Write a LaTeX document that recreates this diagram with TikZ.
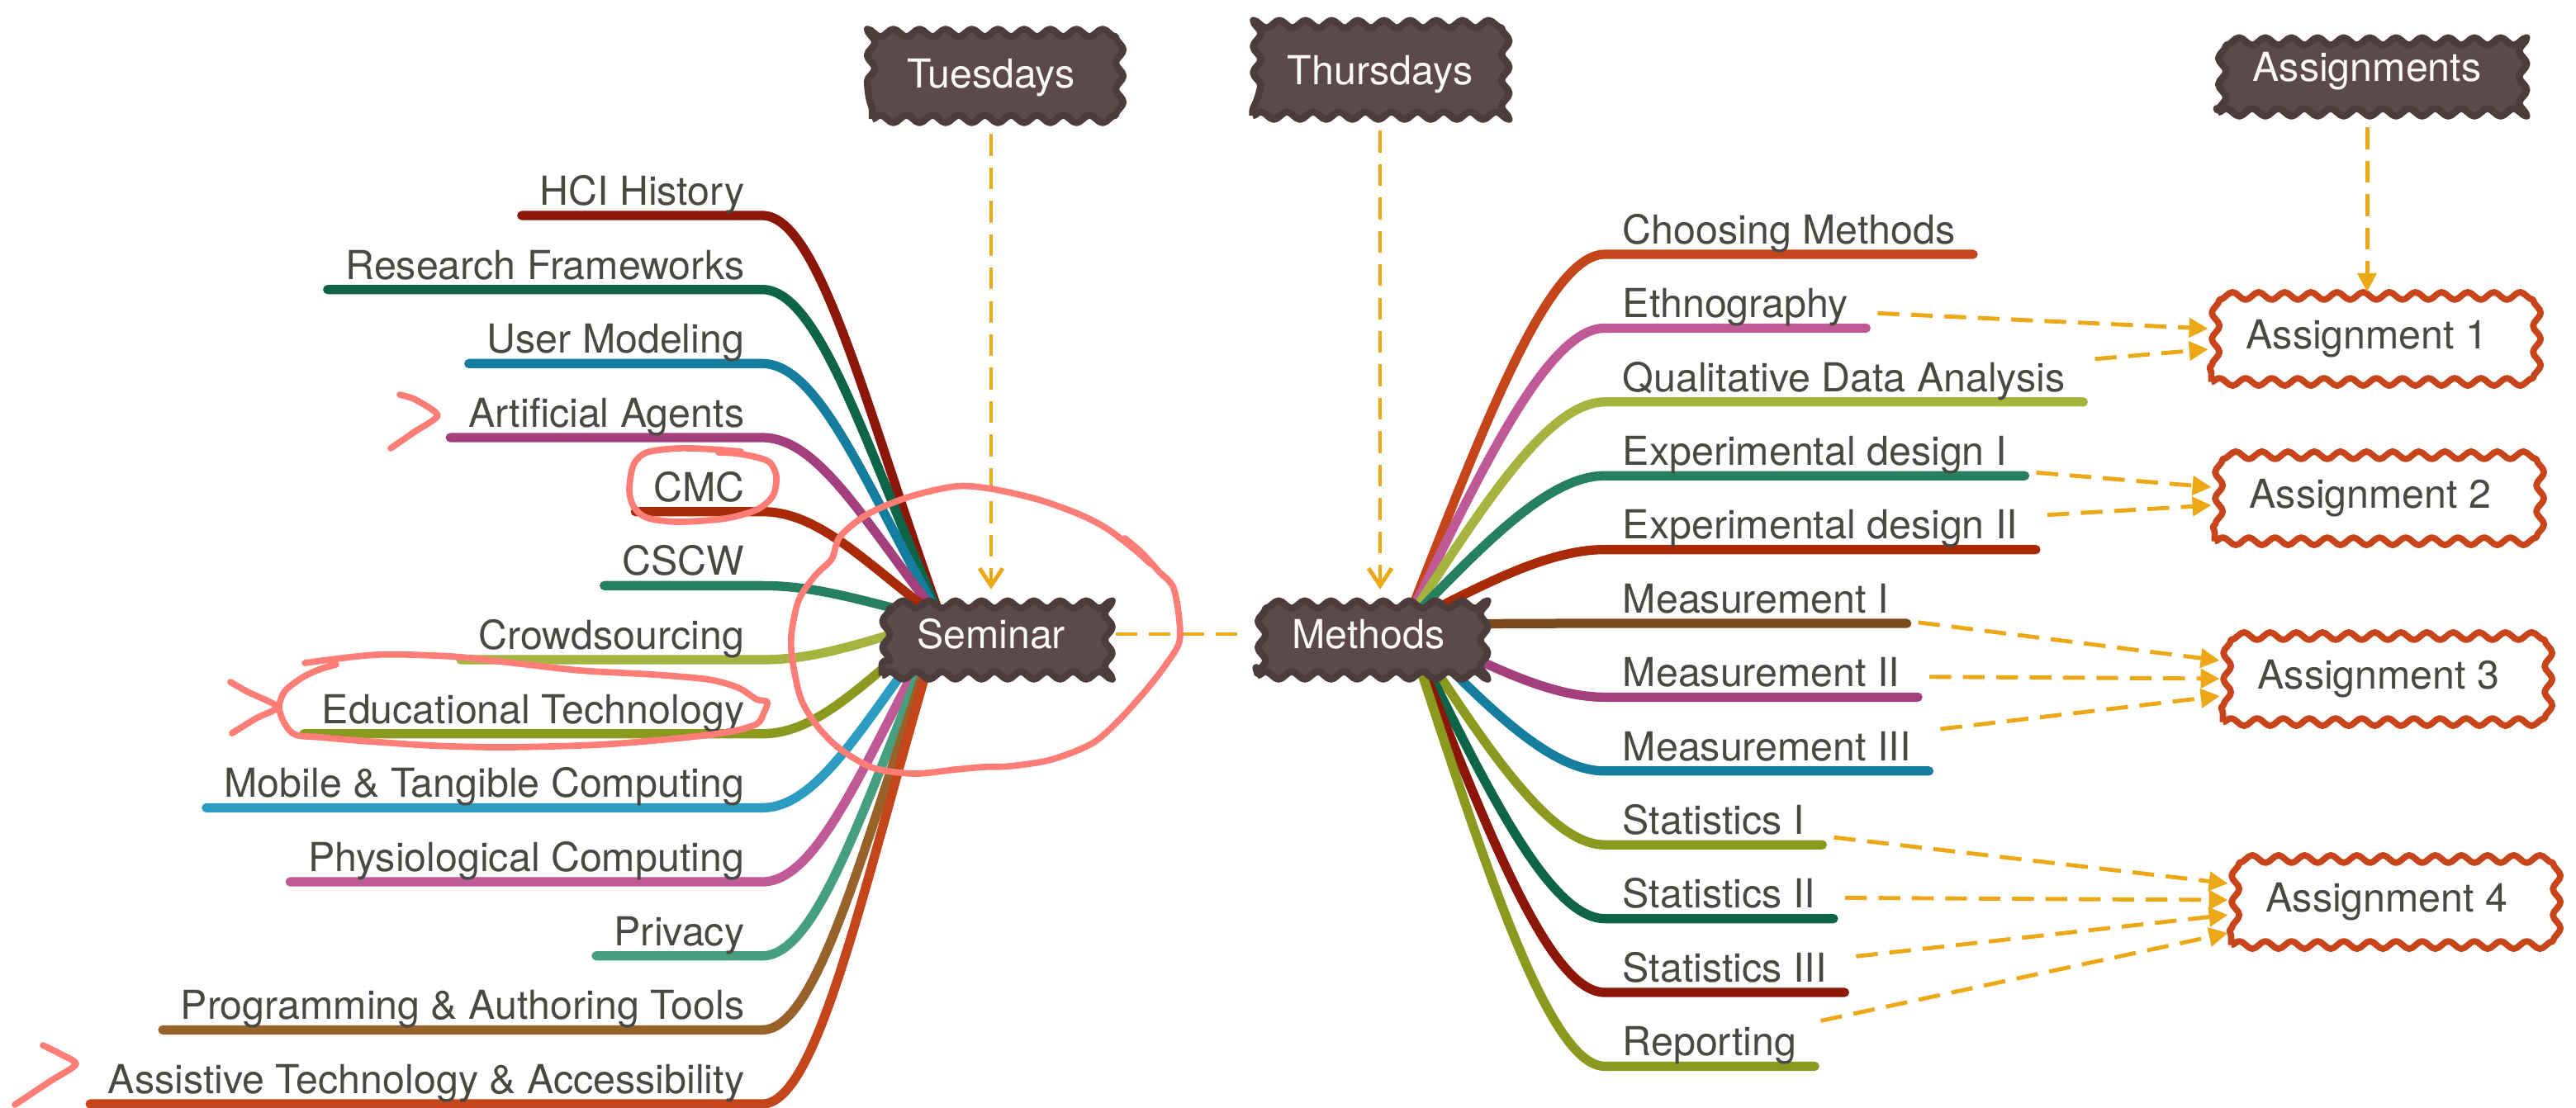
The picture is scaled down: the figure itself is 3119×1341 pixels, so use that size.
\documentclass[tikz,border=0pt]{standalone}
\usepackage{fontspec}
\setmainfont{TeX Gyre Heros}
\usetikzlibrary{arrows.meta,decorations.pathmorphing}
\pgfdeclarelayer{bg}
\pgfsetlayers{bg,main}

\definecolor{txtgray}{HTML}{4A4843}
\definecolor{cloudfill}{HTML}{5C4A4A}
\definecolor{cloudline}{HTML}{4D3C3C}
\definecolor{taskline}{HTML}{C8441A}
\definecolor{linkorange}{HTML}{ECA816}
\definecolor{scribred}{HTML}{FF7D77}
% branch colours
\definecolor{wine}{HTML}{8C1708}
\definecolor{pine}{HTML}{0E6446}
\definecolor{teal}{HTML}{157E9E}
\definecolor{plum}{HTML}{A33F7C}
\definecolor{brick}{HTML}{A82A06}
\definecolor{jade}{HTML}{25805F}
\definecolor{lime}{HTML}{A4B43F}
\definecolor{olive}{HTML}{8A9A1F}
\definecolor{sky}{HTML}{2C9CC2}
\definecolor{rose}{HTML}{C05A96}
\definecolor{sea}{HTML}{46A07F}
\definecolor{umber}{HTML}{98622B}
\definecolor{flame}{HTML}{C44519}
\definecolor{bark}{HTML}{7B4A1C}

\begin{document}
\begin{tikzpicture}[
  x=0.01cm, y=-0.01cm,
  font=\fontsize{13.75}{16}\selectfont,
  topic/.style={text=txtgray, inner xsep=6pt, inner ysep=1pt,
                text height=10pt, text depth=2.4pt},
  branch/.style={line width=3.2pt, line cap=round},
  daybox/.style={fill=cloudfill, draw=cloudline, text=white!96!brown,
                 line width=2.4pt, inner xsep=12pt, minimum height=1.0cm,
                 line join=round, decorate,
                 decoration={snake, segment length=9pt, amplitude=1.3pt}},
  taskbox/.style={daybox, fill=white, draw=taskline, text=txtgray,
                  line width=2.2pt, minimum height=1.05cm},
  dashlink/.style={linkorange, line width=1.4pt,
                   dash pattern=on 7.5pt off 4pt, shorten <=4pt},
  tip/.style={dashlink, -{Triangle[length=6.5pt, width=6.5pt]}},
  barb/.style={dashlink, -{Straight Barb[length=6pt, width=8pt]}},
  scribble/.style={scribred, line width=2.2pt, line cap=round,
                   line join=round}
]
\useasboundingbox (0,0) rectangle (3119,1341);

% main topics
\node[daybox] (Sem) at (1200,768) {Seminar};
\node[daybox] (Met) at (1657,768) {Methods};
\node[daybox] (Tue) at (1200,94)  {Tuesdays};
\node[daybox] (Thu) at (1671,90)  {Thursdays};
\node[daybox] (Asg) at (2866,86)  {Assignments};

\node[taskbox] (A1) at (2866,410)  {Assignment 1};
\node[taskbox] (A2) at (2870,603)  {Assignment 2};
\node[taskbox] (A3) at (2880,822)  {Assignment 3};
\node[taskbox] (A4) at (2890,1092) {Assignment 4};

\coordinate (semhub) at ([xshift=-0.6cm, yshift=0.17cm]Sem.center);
\coordinate (methub) at ([xshift=0.45cm, yshift=0.12cm]Met.center);

% seminar branches
\foreach \i/\col/\txt in {1/wine/HCI History, 2/pine/Research Frameworks,
    3/teal/User Modeling, 4/plum/Artificial Agents, 5/brick/CMC,
    6/jade/CSCW, 7/lime/Crowdsourcing, 8/olive/Educational Technology,
    9/sky/Mobile \& Tangible Computing, 10/rose/Physiological Computing,
    11/sea/Privacy, 12/umber/Programming \& Authoring Tools,
    13/flame/Assistive Technology \& Accessibility} {
  \pgfmathsetmacro\yl{261+89.67*(\i-1)}
  \pgfmathsetmacro\cy{0.51*(\yl-751)}
  \node[topic, anchor=south east] (L\i) at (923,\yl) {\txt};
  \begin{pgfonlayer}{bg}
    \draw[branch, \col] (L\i.south west) -- (L\i.south east)
      .. controls +(70,0) and +(-90,\cy) .. (semhub);
  \end{pgfonlayer}
}

% methods branches
\foreach \i/\col/\txt in {1/flame/Choosing Methods, 2/rose/Ethnography,
    3/lime/Qualitative Data Analysis, 4/jade/Experimental design I,
    5/brick/Experimental design II, 6/bark/Measurement I,
    7/plum/Measurement II, 8/teal/Measurement III, 9/olive/Statistics I,
    10/pine/Statistics II, 11/wine/Statistics III, 12/olive/Reporting} {
  \pgfmathsetmacro\yl{308+89.4*(\i-1)}
  \pgfmathsetmacro\cy{0.51*(\yl-756)}
  \node[topic, anchor=south west] (R\i) at (1943,\yl) {\txt};
  \begin{pgfonlayer}{bg}
    \draw[branch, \col] (methub) .. controls +(90,\cy) and +(-70,0)
      .. (R\i.south west) -- (R\i.south east);
  \end{pgfonlayer}
}

% schedule links
\draw[barb] (Tue) -- (Sem);
\draw[barb] (Thu.south) -- (Thu.south |- Met.north);
\draw[dashlink, shorten >=3pt] (Sem) -- (Met);
\draw[tip] (Asg) -- (A1);

% methods -> assignments
\draw[tip] (R2) -- ([yshift=0.12cm]A1.west);
\draw[tip] (R3) -- ([yshift=-0.13cm]A1.west);
\draw[tip] (R4) -- ([yshift=0.13cm]A2.west);
\draw[tip] (R5) -- ([yshift=-0.09cm]A2.west);
\draw[tip] (R6) -- ([yshift=0.22cm]A3.west);
\draw[tip] (R7) -- (A3.west);
\draw[tip] (R8) -- ([yshift=-0.21cm]A3.west);
\draw[tip] (R9) -- ([yshift=0.22cm]A4.west);
\draw[tip] (R10) -- ([yshift=0.02cm]A4.west);
\draw[tip] (R11) -- ([yshift=-0.16cm]A4.west);
\draw[tip] (R12) -- ([yshift=-0.38cm]A4.west);

% hand-drawn marks
\draw[scribble] plot[smooth, tension=0.4] coordinates
  {(484,478) (503,484) (530,503) (502,523) (473,543)};
\draw[scribble] plot[smooth, tension=0.4] coordinates
  {(279,826) (300,838) (336,856) (310,870) (281,888)};
\draw[scribble] plot[smooth, tension=0.4] coordinates
  {(52,1266) (72,1276) (92,1289) (60,1310) (18,1338)};
\draw[scribble] plot[smooth] coordinates
  {(897,547) (860,544) (821,543) (783,548) (767,563) (762,593) (767,613)
   (783,627) (821,632) (878,628) (917,617) (936,600) (940,577) (932,560)
   (913,553) (890,549) (870,548)};
\draw[scribble] plot[smooth] coordinates
  {(369,803) (456,793) (546,795) (613,802) (702,812) (791,817) (858,823)
   (894,833) (916,847) (929,850) (925,863) (916,877) (880,887) (813,895)
   (724,902) (613,905) (523,903) (434,897) (389,893) (358,890) (345,877)
   (338,857) (345,837) (367,820) (389,810) (407,805)};
\draw[scribble] plot[smooth] coordinates
  {(1362,652) (1383,670) (1403,692) (1420,710) (1427,743) (1428,777)
   (1413,803) (1390,833) (1357,870) (1323,900) (1273,920) (1223,928)
   (1190,929) (1157,932) (1107,937) (1057,930) (1017,907) (990,880)
   (970,847) (960,803) (958,770) (967,727) (987,697) (1007,677)
   (1017,650) (1050,623) (1100,602) (1157,589) (1200,592) (1257,605)
   (1307,623) (1340,640) (1373,665) (1393,683)};
\end{tikzpicture}
\end{document}
